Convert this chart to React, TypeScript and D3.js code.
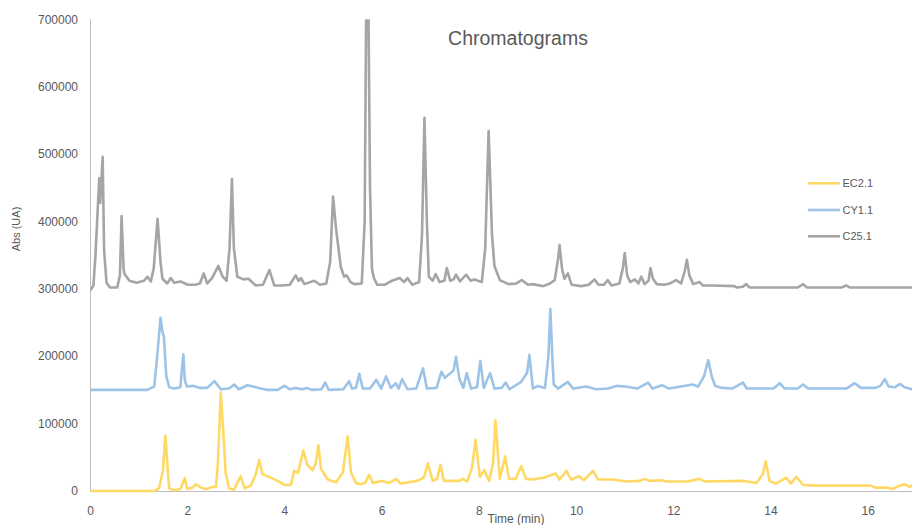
import React from "react";
import * as d3 from "d3";

// Time (min), absorbance (UA) pairs
const c25Data: [number, number][] = [
  [0.0, 298000], [0.06, 305000], [0.1, 347000], [0.18, 464000], [0.2, 428000], [0.25, 496000],
  [0.28, 357000], [0.33, 309000], [0.4, 302000], [0.55, 302000], [0.605, 320000], [0.64, 408000],
  [0.68, 330000], [0.7, 322000], [0.8, 312000], [0.95, 309000], [1.1, 312000], [1.17, 318000],
  [1.24, 311000], [1.3, 330000], [1.38, 404000], [1.44, 340000], [1.48, 315000], [1.58, 308000],
  [1.65, 316000], [1.72, 309000], [1.85, 311000], [2.0, 306000], [2.15, 306000], [2.25, 308000],
  [2.33, 323000], [2.4, 308000], [2.5, 316000], [2.63, 334000], [2.72, 318000], [2.8, 312000],
  [2.86, 360000], [2.91, 463000], [2.95, 360000], [3.02, 318000], [3.15, 314000], [3.25, 315000],
  [3.4, 305000], [3.55, 306000], [3.68, 328000], [3.78, 305000], [3.95, 305000], [4.1, 306000],
  [4.22, 320000], [4.28, 312000], [4.33, 316000], [4.4, 307000], [4.6, 312000], [4.72, 306000],
  [4.85, 308000], [4.93, 340000], [4.99, 437000], [5.05, 390000], [5.15, 332000], [5.22, 318000],
  [5.27, 320000], [5.35, 310000], [5.43, 307000], [5.58, 308000], [5.64, 400000], [5.67, 700000],
  [5.72, 700000], [5.75, 450000], [5.79, 330000], [5.83, 316000], [5.9, 306000], [6.05, 306000],
  [6.2, 312000], [6.36, 316000], [6.45, 310000], [6.52, 316000], [6.62, 306000], [6.76, 310000],
  [6.82, 380000], [6.87, 554000], [6.92, 400000], [6.96, 318000], [7.04, 312000], [7.1, 322000],
  [7.18, 310000], [7.28, 312000], [7.33, 331000], [7.4, 312000], [7.47, 314000], [7.52, 321000],
  [7.6, 311000], [7.73, 321000], [7.82, 312000], [7.9, 314000], [8.05, 310000], [8.12, 360000],
  [8.19, 534000], [8.26, 380000], [8.31, 334000], [8.42, 313000], [8.6, 307000], [8.76, 308000],
  [8.87, 313000], [9.0, 306000], [9.1, 307000], [9.31, 304000], [9.45, 308000], [9.55, 313000],
  [9.62, 345000], [9.65, 365000], [9.7, 330000], [9.75, 315000], [9.82, 323000], [9.9, 306000],
  [10.1, 304000], [10.25, 306000], [10.37, 314000], [10.45, 306000], [10.56, 306000], [10.64, 313000],
  [10.72, 305000], [10.88, 308000], [10.95, 330000], [10.99, 353000], [11.04, 320000], [11.1, 310000],
  [11.2, 314000], [11.27, 308000], [11.33, 318000], [11.4, 307000], [11.48, 312000], [11.52, 331000],
  [11.57, 315000], [11.65, 307000], [11.8, 306000], [11.92, 308000], [12.05, 313000], [12.15, 308000],
  [12.22, 325000], [12.27, 343000], [12.32, 320000], [12.4, 307000], [12.53, 310000], [12.6, 305000],
  [12.8, 305000], [13.25, 304000], [13.29, 302000], [13.42, 303000], [13.49, 307000], [13.56, 302000],
  [14.55, 302000], [14.66, 307000], [14.74, 302000], [15.45, 302000], [15.55, 305000], [15.62, 302000],
  [16.9, 302000],
];

const cy11Data: [number, number][] = [
  [0.0, 150000], [1.17, 150000], [1.31, 155000], [1.36, 190000], [1.44, 257000], [1.48, 236000],
  [1.51, 229000], [1.56, 170000], [1.62, 154000], [1.72, 152000], [1.85, 154000], [1.88, 180000],
  [1.91, 203000], [1.94, 165000], [1.98, 155000], [2.12, 156000], [2.25, 153000], [2.4, 153000],
  [2.55, 163000], [2.68, 151000], [2.85, 152000], [2.96, 158000], [3.05, 151000], [3.23, 157000],
  [3.35, 155000], [3.5, 152000], [3.65, 150000], [3.85, 150000], [3.99, 156000], [4.1, 151000],
  [4.22, 153000], [4.35, 151000], [4.45, 153000], [4.55, 150000], [4.75, 151000], [4.83, 161000],
  [4.9, 150000], [5.2, 151000], [5.26, 157000], [5.32, 163000], [5.38, 152000], [5.46, 153000],
  [5.53, 174000], [5.6, 152000], [5.75, 152000], [5.88, 165000], [5.98, 152000], [6.08, 170000],
  [6.18, 153000], [6.28, 160000], [6.34, 152000], [6.41, 166000], [6.52, 151000], [6.7, 152000],
  [6.84, 182000], [6.92, 152000], [7.12, 153000], [7.22, 177000], [7.29, 168000], [7.39, 174000],
  [7.47, 179000], [7.52, 199000], [7.59, 166000], [7.67, 153000], [7.74, 175000], [7.83, 152000],
  [7.95, 154000], [8.02, 193000], [8.09, 153000], [8.22, 175000], [8.31, 152000], [8.46, 153000],
  [8.54, 161000], [8.62, 151000], [8.86, 162000], [8.98, 175000], [9.03, 202000], [9.1, 152000],
  [9.2, 156000], [9.35, 153000], [9.42, 200000], [9.46, 270000], [9.5, 200000], [9.53, 158000],
  [9.62, 152000], [9.82, 162000], [9.93, 152000], [10.2, 155000], [10.4, 151000], [10.65, 152000],
  [10.82, 156000], [11.0, 155000], [11.25, 152000], [11.47, 161000], [11.56, 152000], [11.76, 157000],
  [11.9, 152000], [12.39, 158000], [12.5, 155000], [12.62, 170000], [12.71, 194000], [12.78, 170000],
  [12.85, 156000], [13.0, 153000], [13.2, 152000], [13.42, 161000], [13.5, 152000], [14.05, 152000],
  [14.18, 160000], [14.28, 152000], [14.55, 152000], [14.66, 158000], [14.76, 152000], [15.55, 152000],
  [15.72, 160000], [15.85, 153000], [16.15, 153000], [16.25, 156000], [16.34, 166000], [16.42, 155000],
  [16.55, 154000], [16.65, 159000], [16.75, 154000], [16.9, 151000],
];

const ec21Data: [number, number][] = [
  [0.0, 0], [1.31, 0], [1.41, 4000], [1.49, 30000], [1.54, 82000], [1.59, 30000], [1.62, 4000],
  [1.72, 1000], [1.85, 3000], [1.94, 19000], [1.99, 3000], [2.1, 5000], [2.17, 10000], [2.28, 5000],
  [2.38, 3000], [2.5, 6000], [2.58, 6000], [2.62, 40000], [2.68, 146000], [2.73, 90000], [2.78, 27000],
  [2.85, 4000], [2.95, 2000], [3.09, 22000], [3.17, 4000], [3.3, 8000], [3.4, 25000], [3.47, 46000],
  [3.54, 25000], [3.67, 21000], [3.85, 15000], [3.99, 9000], [4.12, 9000], [4.19, 30000], [4.27, 27000],
  [4.38, 60000], [4.46, 39000], [4.57, 31000], [4.63, 40000], [4.69, 68000], [4.74, 33000], [4.88, 17000],
  [5.05, 13000], [5.19, 27000], [5.29, 81000], [5.36, 27000], [5.46, 12000], [5.55, 10000], [5.65, 12000],
  [5.73, 24000], [5.81, 12000], [6.0, 15000], [6.15, 12000], [6.29, 18000], [6.38, 11000], [6.72, 15000],
  [6.86, 20000], [6.94, 41000], [7.04, 15000], [7.13, 18000], [7.2, 39000], [7.27, 15000], [7.59, 15000],
  [7.66, 18000], [7.75, 14000], [7.85, 35000], [7.92, 76000], [8.01, 21000], [8.1, 31000], [8.2, 15000],
  [8.28, 40000], [8.33, 105000], [8.42, 18000], [8.53, 51000], [8.61, 18000], [8.75, 18000], [8.86, 37000],
  [8.96, 18000], [9.1, 17000], [9.34, 20000], [9.57, 26000], [9.65, 17000], [9.79, 30000], [9.89, 17000],
  [10.05, 22000], [10.15, 16000], [10.34, 30000], [10.44, 17000], [10.75, 17000], [11.02, 14000],
  [11.3, 15000], [11.4, 18000], [11.5, 15000], [11.74, 16000], [11.85, 14000], [12.28, 14000],
  [12.53, 18000], [12.64, 14000], [13.42, 15000], [13.7, 12000], [13.83, 25000], [13.89, 44000],
  [13.97, 15000], [14.1, 11000], [14.31, 20000], [14.41, 11000], [14.52, 21000], [14.66, 9000],
  [14.9, 8000], [16.05, 8000], [16.15, 5000], [16.4, 5000], [16.5, 3000], [16.62, 7000], [16.75, 10000],
  [16.85, 6000], [16.9, 8000],
];

const seriesNames = ["EC2.1", "CY1.1", "C25.1"];
const seriesColors = ["#FFD966", "#9DC3E6", "#A5A5A5"];
const seriesData = [ec21Data, cy11Data, c25Data];

const xTicks = [0, 2, 4, 6, 8, 10, 12, 14, 16];
const yTicks = [0, 100000, 200000, 300000, 400000, 500000, 600000, 700000];

const chartTitle = "Chromatograms";
const xTitle = "Time (min)";
const yTitle = "Abs (UA)";

export default function App() {
  const W = 912;
  const H = 525;
  const left = 90.5;
  const right = 912;
  const top = 19.3;
  const bottom = 491;

  const x = d3.scaleLinear().domain([0, 16.9]).range([left, right]);
  const y = d3.scaleLinear().domain([0, 700000]).range([bottom, top]);

  const line = d3
    .line<[number, number]>()
    .x((d) => x(d[0]))
    .y((d) => y(d[1]));

  const font = "'Liberation Sans', Arial, sans-serif";
  const textColor = "#595959";

  return (
    <svg
      width={W}
      height={H}
      style={{ position: "absolute", left: 0, top: 0, background: "#fff" }}
      fontFamily={font}
    >
      <defs>
        <clipPath id="plotClip">
          <rect x={left} y={top} width={right - left} height={bottom - top + 2} />
        </clipPath>
      </defs>
      <rect x={0} y={0} width={W} height={H} fill="#fff" />

      {/* axes */}
      <line x1={left} x2={left} y1={top} y2={bottom} stroke="#BFBFBF" strokeWidth={1} />
      <line x1={left} x2={right} y1={bottom + 0.5} y2={bottom + 0.5} stroke="#BFBFBF" strokeWidth={1} />

      {/* y tick labels */}
      {yTicks.map((t) => (
        <text
          key={"y" + t}
          x={78}
          y={y(t)}
          dy="0.35em"
          textAnchor="end"
          fontSize={12}
          fill={textColor}
        >
          {t}
        </text>
      ))}

      {/* x tick labels */}
      {xTicks.map((t) => (
        <text
          key={"x" + t}
          x={x(t)}
          y={515}
          textAnchor="middle"
          fontSize={12}
          fill={textColor}
        >
          {t}
        </text>
      ))}

      {/* series */}
      <g clipPath="url(#plotClip)">
        {seriesData.map((d, i) => (
          <path
            key={seriesNames[i]}
            d={line(d) || ""}
            fill="none"
            stroke={seriesColors[i]}
            strokeWidth={2.6}
            strokeLinejoin="round"
            strokeLinecap="round"
          />
        ))}
      </g>

      {/* titles */}
      <text x={518} y={44.5} textAnchor="middle" fontSize={19.5} fill={textColor}>
        {chartTitle}
      </text>
      <text x={516} y={523} textAnchor="middle" fontSize={12} fill={textColor}>
        {xTitle}
      </text>
      <text
        transform={`translate(20, 229) rotate(-90)`}
        textAnchor="middle"
        fontSize={11}
        fill={textColor}
      >
        {yTitle}
      </text>

      {/* legend */}
      {seriesNames.map((n, i) => {
        const ly = [183.3, 210, 236.3][i];
        return (
          <g key={"lg" + n}>
            <line x1={808} x2={840} y1={ly} y2={ly} stroke={seriesColors[i]} strokeWidth={2.6} />
            <text x={842.5} y={ly} dy="0.35em" fontSize={11} fill={textColor}>
              {n}
            </text>
          </g>
        );
      })}
    </svg>
  );
}
